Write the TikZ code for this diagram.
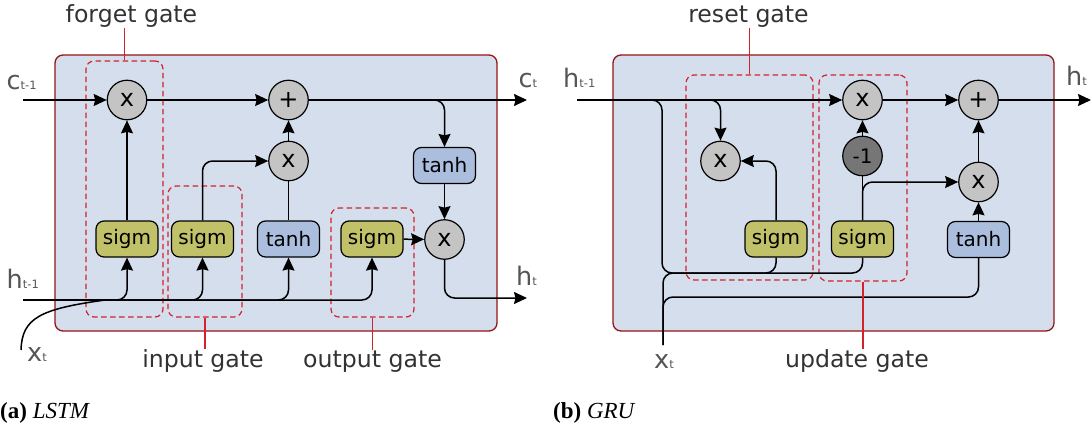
\documentclass[tikz,border=0pt]{standalone}
\usepackage{fontspec}
\setmainfont{DejaVu Sans}
\newfontfamily\capfont{Liberation Serif}
\usetikzlibrary{arrows.meta}
\definecolor{cellfill}{RGB}{213,222,236}
\definecolor{cellline}{RGB}{150,20,20}
\definecolor{gatered}{RGB}{210,35,45}
\definecolor{sigmfill}{RGB}{193,193,106}
\definecolor{tanhfill}{RGB}{172,190,222}
\definecolor{opfill}{RGB}{196,196,196}
\definecolor{negfill}{RGB}{118,118,118}
\definecolor{labelgray}{RGB}{85,85,85}
\definecolor{textgray}{RGB}{50,50,50}
\newcommand\cellvar[2]{{\fontsize{25.5}{30}\selectfont#1}{\fontsize{11.5}{13}\selectfont#2}}

\begin{document}
\begin{tikzpicture}[x=1pt,y=-1pt,>={Stealth[length=13pt,width=12pt,inset=1.5pt]},
  wire/.style={line width=1.5pt},
  cellbox/.style={draw=cellline,fill=cellfill,line width=1.3pt,rounded corners=8pt},
  gatebox/.style={draw=gatered,line width=1.2pt,dash pattern=on 5.5pt off 3.5pt,
    rounded corners=8pt,inner sep=0pt},
  leader/.style={draw=gatered,line width=1.1pt},
  opnode/.style={circle,draw,fill=opfill,line width=1.2pt,minimum size=39.5pt,
    inner sep=0pt,font=\fontsize{24}{28}\selectfont},
  actbox/.style={rectangle,rounded corners=8pt,draw,line width=1.2pt,minimum width=62pt,
    minimum height=36pt,inner sep=0pt,font=\fontsize{20}{24}\selectfont},
  sigmbox/.style={actbox,fill=sigmfill},
  tanhbox/.style={actbox,fill=tanhfill},
  gatelabel/.style={text=textgray,font=\fontsize{23.6}{28}\selectfont,inner sep=0pt,anchor=base},
  varlabel/.style={text=labelgray,inner sep=0pt,anchor=base west},
  caption/.style={inner sep=0pt,anchor=base west,font=\capfont\fontsize{23}{27}\selectfont}]
  \useasboundingbox (0,0) rectangle (1092,428);
  \draw[cellbox] (55,55) rectangle (497,331);
  \draw[cellbox] (613,55) rectangle (1054,331);

  % LSTM
  \node[gatebox,minimum width=77pt,minimum height=256pt] (fgbox) at (124.5,189) {};
  \node[gatebox,minimum width=74pt,minimum height=131pt] (inbox) at (205,251.5) {};
  \node[gatebox,minimum width=83pt,minimum height=109pt] (outbox) at (372.5,262.5) {};
  \node[opnode] (fgx) at (127,100) {x};
  \node[opnode] (cplus) at (288.5,100) {+};
  \node[opnode] (inx) at (288.5,161) {x};
  \node[opnode] (outx) at (444.5,239.5) {x};
  \node[tanhbox] (ctanh) at (444.5,165.5) {tanh};
  \node[sigmbox] (fgsig) at (127,239) {sigm};
  \node[sigmbox] (insig) at (202.5,239) {sigm};
  \node[tanhbox] (intanh) at (288.5,239) {tanh};
  \node[sigmbox] (outsig) at (372,239) {sigm};
  \coordinate (cstart) at (23,100);
  \coordinate (cend) at (527,100);
  \coordinate (hstart) at (23,300);
  \coordinate (hend) at (527,298);
  \coordinate (xstart) at (21,350);
  \coordinate (xjoin) at (105,300);
  \draw[wire,->] (cstart) -- (fgx);
  \draw[wire,->] (fgx) -- (cplus);
  \draw[wire,->] (cplus) -- (cend);
  \draw[wire,->,rounded corners=10pt] (cplus.east) -| (ctanh);
  \draw[wire,->] (ctanh) -- (outx);
  \draw[wire,->] (outsig) -- (outx);
  \draw[wire,->,rounded corners=10pt] (outx) |- (hend);
  \draw[wire,->] (fgsig) -- (fgx);
  \draw[wire,->,rounded corners=10pt] (insig) |- (inx);
  \draw[wire] (intanh) -- (inx);
  \draw[wire,->] (inx) -- (cplus);
  \foreach \n in {fgsig,insig,intanh,outsig}
    \draw[wire,->,rounded corners=10pt] (hstart) -| (\n);
  \draw[wire] (xstart) .. controls (22,318) and (40,309) .. (xjoin);
  \node[varlabel] (cin) at (6.5,89) {\cellvar{c}{t-1}};
  \node[varlabel] (hin) at (6.5,288) {\cellvar{h}{t-1}};
  \node[varlabel] (xin) at (27,361) {\cellvar{x}{t}};
  \node[varlabel] (cout) at (518.5,87) {\cellvar{c}{t}};
  \node[varlabel] (hout) at (516,285) {\cellvar{h}{t}};
  \node[gatelabel] (fglbl) at (131.5,23) {forget gate};
  \node[gatelabel] (inlbl) at (203,367) {input gate};
  \node[gatelabel] (outlbl) at (372.5,367) {output gate};
  \draw[leader] (fgbox.north) -- (fgbox.north |- fglbl.south);
  \draw[leader] (inbox.south) -- (inbox.south |- inlbl.north);
  \draw[leader] (outbox.south) -- (outbox.south |- outlbl.north);
  \node[caption] (lstmcap) at (0,418) {\textbf{(a)} \textit{LSTM}};

  % GRU
  \node[gatebox,minimum width=127pt,minimum height=205pt] (rbox) at (749.5,177.5) {};
  \node[gatebox,minimum width=88pt,minimum height=206pt] (zbox) at (863,178) {};
  \node[opnode] (zx) at (862.5,100) {x};
  \node[opnode] (gplus) at (978.5,100) {+};
  \node[opnode] (rx) at (720.5,161) {x};
  \node[opnode,fill=negfill,font=\fontsize{20}{24}\selectfont] (neg) at (862.5,156) {-1};
  \node[opnode] (hx) at (978.5,182) {x};
  \node[sigmbox] (rsig) at (776,239) {sigm};
  \node[sigmbox] (zsig) at (862.5,239) {sigm};
  \node[tanhbox] (gtanh) at (978.5,239.5) {tanh};
  \coordinate (ghstart) at (577,100);
  \coordinate (ghend) at (1091,100);
  \coordinate (hdrop) at (662,273);
  \coordinate (gxstart) at (663,345);
  \coordinate (tbend) at (663,297);
  \draw[wire,->] (ghstart) -- (zx);
  \draw[wire,->] (zx) -- (gplus);
  \draw[wire,->] (gplus) -- (ghend);
  \draw[wire,->,rounded corners=10pt] (ghstart) -| (rx);
  \draw[wire,->,rounded corners=10pt] (rsig) |- (rx);
  \draw[wire] (zsig) -- (neg);
  \draw[wire,->] (neg) -- (zx);
  \draw[wire,->,rounded corners=10pt] (zsig.north) |- (hx);
  \draw[wire,->] (hx) -- (gplus);
  \draw[wire,->] (gtanh) -- (hx);
  \draw[wire,rounded corners=10pt] (ghstart) -| (hdrop) -- (zsig.south |- hdrop) -- (zsig.south);
  \draw[wire,rounded corners=10pt] (gxstart) |- (rsig.south |- hdrop) -- (rsig.south);
  \draw[wire,rounded corners=10pt] (gtanh) |- (tbend) -- (gxstart);
  \node[varlabel] (ghin) at (563,87) {\cellvar{h}{t-1}};
  \node[varlabel] (ghout) at (1066,85) {\cellvar{h}{t}};
  \node[varlabel] (gxin) at (654,368) {\cellvar{x}{t}};
  \node[gatelabel] (rlbl) at (748.5,23) {reset gate};
  \node[gatelabel] (zlbl) at (857,367) {update gate};
  \draw[leader] (rbox.north) -- (rbox.north |- rlbl.south);
  \draw[leader] (zbox.south) -- (zbox.south |- zlbl.north);
  \node[caption] (grucap) at (553,418) {\textbf{(b)} \textit{GRU}};
\end{tikzpicture}
\end{document}
